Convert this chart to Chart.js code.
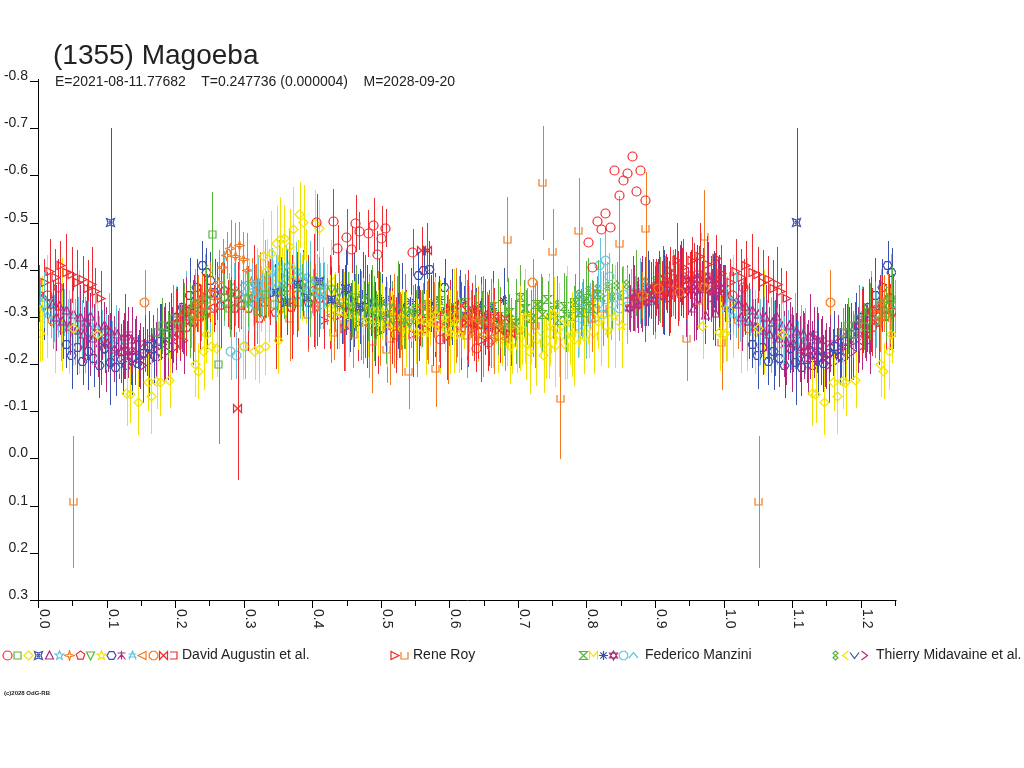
<!DOCTYPE html>
<html>
<head>
<meta charset="utf-8">
<script src="https://cdn.jsdelivr.net/npm/chart.js@4.4.1/dist/chart.umd.min.js"></script>
<style>
  html, body { margin: 0; padding: 0; background: #fff; }
  body { width: 1024px; height: 768px; position: relative; overflow: hidden;
         font-family: "Liberation Sans", Arial, sans-serif; color: #222; }
  #plot { position: absolute; left: 0; top: 0; }
  .txt { position: absolute; white-space: pre; }
  #title { left: 53px; top: 41px; font-size: 28px; line-height: 28px; }
  #sub { left: 55px; top: 74px; font-size: 14px; line-height: 14px; }
  .name { font-size: 14px; line-height: 14px; top: 647px; }
  .sym { position: absolute; }
  #copy { left: 4px; top: 690px; font-size: 6px; line-height: 6px; font-weight: bold; }
</style>
</head>
<body>
<canvas id="plot" width="1024" height="768"></canvas>
<div id="title" class="txt">(1355) Magoeba</div>
<div id="sub" class="txt">E=2021-08-11.77682    T=0.247736 (0.000004)    M=2028-09-20</div>
<div id="copy" class="txt">(c)2028 OdG-RB</div>
<script>
// [phase, reduced magnitude, error] per observing session
const daCircleRed = [[0.012,-0.345,0.05],[0.028,-0.362,0.06],[0.215,-0.312,0.05],[0.405,-0.500,0.06],[0.429,-0.502,0.07],
  [0.436,-0.444,0.05],[0.449,-0.469,0.06],[0.456,-0.443,0.05],[0.462,-0.498,0.06],[0.467,-0.482,0.04],[0.480,-0.476,0.05],
  [0.488,-0.493,0.06],[0.493,-0.433,0.05],[0.500,-0.466,0.07],[0.506,-0.488,0.04],[0.520,-0.262,0.08],[0.545,-0.436,0.05],
  [0.585,-0.252,0.06],[0.638,-0.233,0.05],[0.655,-0.245,0.06],[0.802,-0.457,0],[0.808,-0.405,0],[0.815,-0.502,0],
  [0.821,-0.486,0],[0.827,-0.520,0],[0.833,-0.489,0],[0.840,-0.610,0],[0.846,-0.557,0],[0.852,-0.590,0],[0.859,-0.604,0],
  [0.865,-0.640,0],[0.872,-0.565,0],[0.878,-0.610,0],[0.884,-0.546,0]];
const daSquareGreen = [[0.253,-0.475,0.09],[0.262,-0.200,0.17],[0.172,-0.268,0.05],[0.180,-0.281,0.06],[0.188,-0.262,0.05],
  [0.196,-0.297,0.07],[0.204,-0.279,0.05],[0.212,-0.312,0.06],[0.220,-0.293,0.08],[0.228,-0.326,0.05],[0.236,-0.308,0.06],
  [0.244,-0.337,0.07],[0.270,-0.341,0.05],[0.278,-0.318,0.06],[0.286,-0.350,0.07],[0.294,-0.329,0.05],[0.305,-0.338,0.06],
  [0.318,-0.312,0.07],[0.331,-0.347,0.05],[0.344,-0.326,0.08],[0.357,-0.355,0.06],[0.370,-0.331,0.07],[0.383,-0.362,0.05],
  [0.396,-0.338,0.08],[0.409,-0.366,0.06]];
const daDiamondYellow = [[0.002,-0.265,0.06],[0.050,-0.275,0.08],[0.085,-0.262,0.07],[0.128,-0.138,0.07],[0.133,-0.136,0.06],
  [0.145,-0.119,0.07],[0.159,-0.161,0.06],[0.164,-0.131,0.08],[0.172,-0.164,0.06],[0.177,-0.161,0.07],[0.191,-0.166,0.06],
  [0.228,-0.200,0.07],[0.232,-0.185,0.06],[0.240,-0.226,0.08],[0.244,-0.262,0.06],[0.252,-0.237,0.07],[0.259,-0.233,0.06],
  [0.298,-0.237,0.07],[0.315,-0.226,0.06],[0.321,-0.230,0.07],[0.330,-0.237,0.06],[0.349,-0.250,0.07],[0.327,-0.428,0.08],
  [0.332,-0.396,0.07],[0.339,-0.435,0.09],[0.347,-0.456,0.08],[0.352,-0.465,0.09],[0.358,-0.467,0.07],[0.366,-0.449,0.08],
  [0.371,-0.486,0.09],[0.380,-0.516,0.07],[0.386,-0.500,0.08],[0.403,-0.498,0.07],[0.409,-0.488,0.06],[0.687,-0.237,0.08],
  [0.716,-0.226,0.09],[0.736,-0.219,0.08],[0.968,-0.280,0.07],[0.993,-0.266,0.08],[0.998,-0.262,0.06]];
const daBoxBlue = [[0.105,-0.500,0.20],[0.344,-0.352,0.06],[0.361,-0.331,0.07],[0.377,-0.368,0.05],[0.392,-0.342,0.08],
  [0.409,-0.375,0.06],[0.426,-0.336,0.07],[0.447,-0.361,0.05],[0.468,-0.322,0.08]];
const daTriangleMagenta = [[0.020,-0.327,0.05],[0.025,-0.298,0.07],[0.030,-0.322,0.06],[0.035,-0.291,0.08],[0.040,-0.313,0.05],
  [0.045,-0.279,0.06],[0.050,-0.306,0.09],[0.055,-0.271,0.05],[0.060,-0.298,0.07],[0.065,-0.262,0.06],[0.070,-0.289,0.08],
  [0.075,-0.301,0.05],[0.080,-0.254,0.06],[0.085,-0.279,0.07],[0.090,-0.246,0.09],[0.095,-0.281,0.05],[0.100,-0.243,0.06],
  [0.105,-0.270,0.08],[0.110,-0.231,0.07],[0.115,-0.262,0.05],[0.120,-0.226,0.06],[0.125,-0.259,0.09],[0.130,-0.221,0.05],
  [0.135,-0.252,0.07],[0.955,-0.318,0.07],[0.972,-0.302,0.06],[0.986,-0.308,0.07]];
const daStarCyan = [[0.300,-0.352,0.05],[0.305,-0.330,0.06],[0.310,-0.365,0.05],[0.315,-0.341,0.07],[0.320,-0.372,0.06],
  [0.325,-0.350,0.05],[0.330,-0.384,0.08],[0.335,-0.356,0.06],[0.340,-0.395,0.05],[0.345,-0.362,0.07],[0.350,-0.404,0.06],
  [0.355,-0.371,0.05],[0.360,-0.392,0.06],[0.365,-0.408,0.08],[0.370,-0.378,0.05],[0.375,-0.399,0.06],[0.380,-0.365,0.07],
  [0.385,-0.388,0.05],[0.390,-0.358,0.06],[0.395,-0.380,0.08],[0.400,-0.352,0.05],[0.405,-0.374,0.06],[0.410,-0.345,0.07],
  [0.415,-0.366,0.05]];
const daSparkOrange = [[0.220,-0.312,0.05],[0.226,-0.295,0.07],[0.232,-0.328,0.06],[0.238,-0.340,0.05],[0.244,-0.318,0.08],
  [0.250,-0.356,0.06],[0.256,-0.338,0.05],[0.262,-0.372,0.07],[0.268,-0.405,0.06],[0.274,-0.430,0.05],[0.280,-0.445,0.06],
  [0.286,-0.428,0.07],[0.292,-0.452,0.05],[0.298,-0.421,0.06],[0.304,-0.398,0.08],[0.310,-0.375,0.05],[0.316,-0.352,0.06],
  [0.322,-0.368,0.07],[0.328,-0.341,0.05],[0.334,-0.359,0.06]];
const daPentagonRed = [[0.200,-0.286,0.07],[0.205,-0.262,0.05],[0.210,-0.301,0.08],[0.215,-0.278,0.06],[0.220,-0.316,0.05],
  [0.225,-0.289,0.09],[0.230,-0.327,0.06],[0.235,-0.300,0.07],[0.240,-0.341,0.05],[0.245,-0.312,0.08],[0.250,-0.349,0.06],
  [0.255,-0.318,0.05],[0.260,-0.346,0.07],[0.265,-0.324,0.09],[0.270,-0.355,0.06],[0.275,-0.329,0.05],[0.280,-0.352,0.08],
  [0.285,-0.318,0.06],[0.290,-0.347,0.07],[0.295,-0.325,0.05],[0.305,-0.318,0.09],[0.313,-0.342,0.11],[0.321,-0.296,0.08],
  [0.329,-0.331,0.10],[0.337,-0.352,0.07],[0.345,-0.309,0.12],[0.353,-0.338,0.09],[0.361,-0.362,0.08],[0.369,-0.321,0.11],
  [0.377,-0.347,0.09],[0.385,-0.372,0.07],[0.393,-0.331,0.10],[0.401,-0.356,0.12],[0.409,-0.338,0.08]];
const daTriDownGreen = [[0.420,-0.332,0.05],[0.426,-0.358,0.07],[0.432,-0.329,0.06],[0.438,-0.351,0.04],[0.444,-0.322,0.08],
  [0.450,-0.346,0.05],[0.456,-0.318,0.06],[0.462,-0.341,0.07],[0.468,-0.313,0.05],[0.474,-0.337,0.04],[0.480,-0.309,0.06],
  [0.486,-0.331,0.08],[0.492,-0.304,0.05],[0.498,-0.326,0.07],[0.504,-0.298,0.06],[0.510,-0.321,0.04],[0.516,-0.294,0.05],
  [0.522,-0.317,0.07],[0.528,-0.289,0.06],[0.534,-0.312,0.08],[0.540,-0.287,0.05],[0.546,-0.308,0.06]];
const daStarYellow = [[0.424,-0.318,0.07],[0.431,-0.341,0.05],[0.438,-0.312,0.08],[0.445,-0.335,0.06],[0.452,-0.305,0.09],
  [0.459,-0.327,0.05],[0.466,-0.299,0.07],[0.473,-0.322,0.06],[0.480,-0.294,0.08],[0.487,-0.316,0.05],[0.494,-0.288,0.07],
  [0.501,-0.311,0.06],[0.508,-0.283,0.09],[0.515,-0.305,0.05],[0.522,-0.278,0.07],[0.529,-0.300,0.06],[0.536,-0.273,0.08],
  [0.543,-0.296,0.05],[0.550,-0.270,0.07],[0.557,-0.292,0.06],[0.564,-0.267,0.09],[0.571,-0.289,0.05],[0.578,-0.305,0.08],
  [0.585,-0.278,0.10],[0.592,-0.296,0.07],[0.599,-0.268,0.09],[0.606,-0.291,0.11],[0.613,-0.262,0.08],[0.702,-0.276,0.09],
  [0.709,-0.301,0.10],[0.744,-0.279,0.11],[0.751,-0.305,0.08],[0.758,-0.272,0.10],[0.770,-0.288,0.12],[0.777,-0.262,0.09],
  [0.820,-0.296,0.10],[0.830,-0.272,0.08],[0.840,-0.301,0.11],[0.850,-0.282,0.09]];
const daHexagonBlue = [[0.040,-0.242,0.05],[0.048,-0.218,0.07],[0.056,-0.236,0.06],[0.064,-0.205,0.05],[0.072,-0.226,0.08],
  [0.080,-0.211,0.06],[0.088,-0.198,0.07],[0.096,-0.232,0.05],[0.104,-0.203,0.09],[0.112,-0.193,0.06],[0.120,-0.209,0.05],
  [0.128,-0.197,0.07],[0.136,-0.214,0.08],[0.144,-0.201,0.06],[0.152,-0.222,0.05],[0.160,-0.238,0.07],[0.168,-0.216,0.06],
  [0.176,-0.247,0.08],[0.184,-0.262,0.05],[0.192,-0.281,0.07],[0.200,-0.299,0.06],[0.210,-0.321,0.05],[0.220,-0.345,0.08],
  [0.230,-0.362,0.06],[0.238,-0.410,0.05],[0.244,-0.395,0.05],[0.250,-0.378,0.06],[0.256,-0.352,0.07],[0.553,-0.388,0.05],
  [0.561,-0.398,0.05],[0.569,-0.401,0.06],[0.592,-0.362,0.06]];
const daTowerMagenta = [[0.124,-0.238,0.07],[0.130,-0.262,0.06],[0.136,-0.229,0.08],[0.142,-0.251,0.05],[0.148,-0.218,0.07],
  [0.154,-0.244,0.06],[0.160,-0.222,0.09],[0.166,-0.255,0.05],[0.172,-0.238,0.07],[0.178,-0.268,0.06],[0.184,-0.249,0.08],
  [0.190,-0.281,0.05],[0.196,-0.262,0.06],[0.202,-0.294,0.07],[0.208,-0.276,0.05],[0.214,-0.305,0.08],[0.220,-0.288,0.06],
  [0.226,-0.318,0.07]];
const daAsteriskCyan = [[0.002,-0.318,0.05],[0.007,-0.336,0.06],[0.012,-0.302,0.04],[0.017,-0.325,0.07],[0.022,-0.297,0.05],
  [0.027,-0.318,0.06],[0.032,-0.287,0.08],[0.037,-0.309,0.05],[0.042,-0.279,0.06],[0.047,-0.301,0.04],[0.052,-0.268,0.07],
  [0.057,-0.292,0.05],[0.062,-0.276,0.06],[0.067,-0.262,0.08],[0.072,-0.284,0.05],[0.077,-0.258,0.06],[0.082,-0.281,0.07],
  [0.087,-0.252,0.05],[0.092,-0.274,0.04],[0.097,-0.247,0.06],[0.102,-0.270,0.08],[0.107,-0.241,0.05],[0.112,-0.266,0.06],
  [0.117,-0.249,0.07]];
const daTriLeftOrange = [[0.402,-0.322,0.09],[0.414,-0.345,0.07],[0.426,-0.302,0.10],[0.438,-0.331,0.08],[0.470,-0.308,0.09],
  [0.482,-0.281,0.11],[0.494,-0.318,0.08],[0.518,-0.292,0.10],[0.530,-0.265,0.09],[0.552,-0.296,0.07],[0.560,-0.322,0.05],
  [0.568,-0.290,0.09],[0.576,-0.315,0.06],[0.584,-0.284,0.08],[0.592,-0.309,0.05],[0.600,-0.278,0.07],[0.608,-0.303,0.10],
  [0.616,-0.272,0.06],[0.624,-0.298,0.08],[0.632,-0.268,0.05],[0.640,-0.293,0.07],[0.648,-0.263,0.09],[0.656,-0.288,0.06],
  [0.664,-0.259,0.08],[0.672,-0.284,0.05],[0.680,-0.255,0.07],[0.688,-0.280,0.06]];
const daOctagonOrange = [[0.020,-0.292,0.06],[0.035,-0.276,0.05],[0.154,-0.330,0.07],[0.241,-0.302,0.06],[0.660,-0.252,0.06],
  [0.720,-0.372,0.05],[0.880,-0.345,0.05],[0.904,-0.361,0.05],[0.934,-0.352,0.06],[0.970,-0.362,0.06]];
const daBowtieRed = [[0.290,-0.105,0.15],[0.558,-0.441,0.05],[0.566,-0.440,0.06],[0.600,-0.318,0.06],[0.608,-0.296,0.07],
  [0.616,-0.325,0.05],[0.624,-0.289,0.08],[0.632,-0.312,0.06],[0.640,-0.281,0.07],[0.648,-0.305,0.05],[0.656,-0.276,0.08],
  [0.664,-0.301,0.06],[0.672,-0.272,0.07],[0.680,-0.296,0.05],[0.688,-0.265,0.07]];
const daBracketRed = [[0.860,-0.332,0.06],[0.866,-0.350,0.08],[0.872,-0.327,0.05],[0.878,-0.346,0.07],[0.884,-0.337,0.09],
  [0.890,-0.361,0.06],[0.896,-0.342,0.08],[0.902,-0.367,0.05],[0.908,-0.349,0.07],[0.914,-0.374,0.06],[0.920,-0.355,0.09],
  [0.926,-0.381,0.05],[0.932,-0.360,0.08],[0.938,-0.385,0.06],[0.944,-0.364,0.07],[0.950,-0.388,0.05],[0.956,-0.366,0.09],
  [0.962,-0.390,0.06],[0.968,-0.367,0.08],[0.974,-0.385,0.05],[0.980,-0.359,0.07],[0.986,-0.376,0.06]];
const rrTriRightRed = [[0.000,-0.350,0.06],[0.008,-0.372,0.05],[0.016,-0.396,0.07],[0.024,-0.384,0.06],[0.031,-0.410,0.05],
  [0.040,-0.395,0.08],[0.048,-0.389,0.06],[0.056,-0.372,0.07],[0.064,-0.380,0.05],[0.071,-0.361,0.06],[0.077,-0.368,0.08],
  [0.082,-0.353,0.05],[0.090,-0.338,0.06],[0.241,-0.300,0.07],[0.405,-0.318,0.08],[0.415,-0.292,0.06],[0.425,-0.331,0.10],
  [0.435,-0.301,0.07],[0.445,-0.276,0.09],[0.455,-0.312,0.06],[0.465,-0.286,0.08],[0.475,-0.322,0.11],[0.485,-0.295,0.07],
  [0.495,-0.268,0.09],[0.505,-0.304,0.06],[0.515,-0.281,0.08],[0.525,-0.312,0.10],[0.535,-0.287,0.07],[0.545,-0.262,0.09],
  [0.555,-0.298,0.06],[0.565,-0.273,0.08],[0.575,-0.305,0.11],[0.585,-0.282,0.07],[0.595,-0.256,0.09],[0.605,-0.291,0.06],
  [0.615,-0.268,0.08],[0.625,-0.300,0.10],[0.635,-0.276,0.07],[0.645,-0.251,0.09],[0.655,-0.286,0.06],[0.900,-0.362,0.06],
  [0.910,-0.381,0.07],[0.920,-0.398,0.05],[0.930,-0.420,0.08],[0.940,-0.405,0.06],[0.952,-0.420,0.05],[0.964,-0.428,0.07],
  [0.975,-0.412,0.06],[0.988,-0.424,0.05],[0.995,-0.392,0.06]];
const rrCupOrange = [[0.050,0.092,0.14],[0.352,-0.318,0.07],[0.366,-0.296,0.09],[0.378,-0.330,0.06],[0.392,-0.305,0.08],
  [0.430,-0.268,0.06],[0.446,-0.285,0.10],[0.458,-0.262,0.07],[0.472,-0.291,0.09],[0.486,-0.248,0.11],[0.498,-0.276,0.08],
  [0.507,-0.230,0.07],[0.512,-0.255,0.10],[0.526,-0.283,0.07],[0.539,-0.184,0.08],[0.552,-0.262,0.09],[0.566,-0.289,0.08],
  [0.579,-0.190,0.08],[0.596,-0.258,0.10],[0.610,-0.285,0.07],[0.624,-0.260,0.09],[0.645,-0.300,0.07],[0.683,-0.465,0.09],
  [0.700,-0.272,0.08],[0.712,-0.301,0.06],[0.724,-0.282,0.09],[0.735,-0.584,0.12],[0.749,-0.438,0.09],[0.760,-0.128,0.13],
  [0.787,-0.484,0.11],[0.806,-0.296,0.07],[0.822,-0.318,0.08],[0.846,-0.456,0.10],[0.885,-0.488,0.12],[0.905,-0.352,0.06],
  [0.925,-0.371,0.07],[0.945,-0.255,0.09],[0.962,-0.335,0.06],[0.970,-0.470,0.10],[0.996,-0.246,0.10]];
const fmHourglassGreen = [[0.550,-0.318,0.04],[0.558,-0.296,0.06],[0.566,-0.327,0.05],[0.574,-0.305,0.07],[0.582,-0.334,0.04],
  [0.590,-0.312,0.06],[0.598,-0.289,0.05],[0.606,-0.321,0.08],[0.614,-0.298,0.04],[0.622,-0.330,0.06],[0.630,-0.306,0.05],
  [0.638,-0.283,0.07],[0.646,-0.315,0.04],[0.654,-0.292,0.06],[0.662,-0.322,0.05],[0.670,-0.300,0.08],[0.678,-0.278,0.06],
  [0.686,-0.309,0.04],[0.694,-0.286,0.05],[0.702,-0.341,0.07],[0.710,-0.318,0.04],[0.718,-0.296,0.06],[0.726,-0.327,0.05],
  [0.734,-0.305,0.08],[0.742,-0.336,0.04],[0.750,-0.314,0.06],[0.758,-0.292,0.05],[0.766,-0.323,0.07],[0.774,-0.301,0.04],
  [0.782,-0.331,0.06],[0.790,-0.309,0.05],[0.798,-0.339,0.08],[0.806,-0.318,0.06],[0.814,-0.347,0.04]];
const fmBowtieYellow = [[0.620,-0.281,0.05],[0.627,-0.296,0.07],[0.634,-0.268,0.06],[0.641,-0.285,0.08],[0.648,-0.259,0.05],
  [0.655,-0.278,0.07],[0.662,-0.252,0.06],[0.669,-0.271,0.09],[0.676,-0.245,0.05],[0.683,-0.266,0.07],[0.690,-0.240,0.06],
  [0.697,-0.262,0.08],[0.704,-0.249,0.05],[0.711,-0.236,0.07],[0.718,-0.258,0.06],[0.725,-0.243,0.09],[0.732,-0.262,0.05],
  [0.739,-0.238,0.07],[0.746,-0.255,0.06],[0.753,-0.231,0.08],[0.760,-0.250,0.05],[0.767,-0.236,0.07],[0.774,-0.259,0.06],
  [0.781,-0.244,0.09],[0.788,-0.265,0.05],[0.795,-0.249,0.07],[0.802,-0.272,0.06],[0.809,-0.258,0.08],[0.816,-0.281,0.05]];
const fmAsteriskBlue = [[0.442,-0.322,0.08],[0.448,-0.351,0.09],[0.454,-0.296,0.07],[0.460,-0.336,0.10],[0.466,-0.312,0.08],
  [0.472,-0.348,0.09],[0.478,-0.301,0.11],[0.484,-0.329,0.07],[0.490,-0.285,0.09],[0.496,-0.342,0.08],[0.500,-0.330,0.06],
  [0.506,-0.305,0.08],[0.512,-0.339,0.05],[0.518,-0.314,0.07],[0.524,-0.291,0.06],[0.530,-0.324,0.09],[0.536,-0.300,0.05],
  [0.542,-0.333,0.07],[0.548,-0.309,0.06],[0.554,-0.286,0.08],[0.560,-0.319,0.05],[0.566,-0.295,0.07],[0.572,-0.328,0.06],
  [0.578,-0.304,0.09],[0.584,-0.337,0.05],[0.590,-0.312,0.07],[0.596,-0.288,0.06],[0.602,-0.321,0.08],[0.608,-0.297,0.05],
  [0.614,-0.330,0.07],[0.620,-0.306,0.06],[0.626,-0.283,0.09],[0.632,-0.316,0.05],[0.638,-0.292,0.07],[0.644,-0.325,0.06],
  [0.650,-0.300,0.08],[0.656,-0.276,0.05],[0.662,-0.318,0.08],[0.670,-0.291,0.09],[0.678,-0.334,0.07]];
const fmDavidMagenta = [[0.862,-0.318,0.05],[0.868,-0.341,0.07],[0.874,-0.325,0.06],[0.880,-0.349,0.08],[0.886,-0.331,0.05],
  [0.892,-0.356,0.06],[0.898,-0.337,0.07],[0.904,-0.361,0.05],[0.910,-0.343,0.08],[0.916,-0.368,0.06],[0.922,-0.350,0.05],
  [0.928,-0.373,0.07],[0.934,-0.353,0.06],[0.940,-0.377,0.08],[0.946,-0.355,0.05],[0.952,-0.379,0.06],[0.958,-0.357,0.07],
  [0.964,-0.380,0.05],[0.970,-0.356,0.06],[0.976,-0.378,0.08],[0.982,-0.351,0.05],[0.988,-0.370,0.06],[0.994,-0.342,0.07],
  [0.999,-0.360,0.05]];
const fmOctagonCyan = [[0.280,-0.226,0.06],[0.288,-0.218,0.05],[0.300,-0.238,0.07],[0.780,-0.305,0.05],[0.786,-0.282,0.07],
  [0.792,-0.314,0.06],[0.798,-0.291,0.08],[0.804,-0.322,0.05],[0.810,-0.299,0.06],[0.816,-0.329,0.07],[0.818,-0.408,0.06],
  [0.822,-0.306,0.05],[0.826,-0.420,0.07],[0.828,-0.336,0.08],[0.832,-0.385,0.05],[0.834,-0.312,0.06],[0.840,-0.342,0.05],
  [0.846,-0.318,0.07],[0.852,-0.347,0.06],[0.858,-0.323,0.08],[0.864,-0.351,0.05],[0.870,-0.327,0.06],[0.876,-0.355,0.07],
  [0.882,-0.331,0.05],[0.890,-0.358,0.06],[0.898,-0.334,0.08]];
const fmCaretCyan = [[0.200,-0.305,0.06],[0.207,-0.282,0.05],[0.214,-0.318,0.08],[0.221,-0.295,0.06],[0.228,-0.331,0.07],
  [0.235,-0.307,0.05],[0.242,-0.343,0.09],[0.249,-0.318,0.06],[0.256,-0.352,0.05],[0.263,-0.327,0.07],[0.270,-0.360,0.08],
  [0.277,-0.334,0.06],[0.284,-0.365,0.05],[0.291,-0.339,0.07],[0.298,-0.368,0.06]];
const tmEightGreen = [[0.452,-0.309,0.07],[0.461,-0.331,0.06],[0.470,-0.288,0.08],[0.479,-0.318,0.07],[0.488,-0.297,0.09],
  [0.497,-0.323,0.06],[0.506,-0.281,0.08],[0.515,-0.306,0.07],[0.524,-0.329,0.09],[0.533,-0.293,0.06],[0.542,-0.315,0.08],
  [0.600,-0.305,0.07],[0.612,-0.327,0.06],[0.624,-0.289,0.08],[0.636,-0.318,0.07],[0.648,-0.296,0.09],[0.660,-0.321,0.06],
  [0.672,-0.284,0.08],[0.684,-0.312,0.07],[0.696,-0.291,0.09],[0.708,-0.318,0.06],[0.720,-0.296,0.08],[0.732,-0.322,0.07],
  [0.744,-0.301,0.09],[0.756,-0.327,0.06],[0.768,-0.306,0.08],[0.780,-0.326,0.04],[0.787,-0.348,0.06],[0.794,-0.331,0.05],
  [0.801,-0.355,0.07],[0.808,-0.336,0.04],[0.815,-0.360,0.06],[0.822,-0.340,0.05],[0.829,-0.364,0.04],[0.836,-0.343,0.07],
  [0.843,-0.366,0.05],[0.850,-0.345,0.06],[0.857,-0.369,0.04],[0.864,-0.348,0.05],[0.871,-0.372,0.07],[0.878,-0.351,0.04],
  [0.885,-0.374,0.06],[0.892,-0.354,0.05],[0.899,-0.377,0.04],[0.906,-0.357,0.07],[0.913,-0.380,0.05]];
const tmLessYellow = [[0.004,-0.296,0.09],[0.012,-0.322,0.11],[0.024,-0.281,0.10],[0.033,-0.305,0.12],[0.044,-0.268,0.09],
  [0.058,-0.290,0.11],[0.300,-0.322,0.06],[0.306,-0.345,0.08],[0.312,-0.331,0.05],[0.318,-0.356,0.09],[0.324,-0.338,0.07],
  [0.330,-0.362,0.06],[0.336,-0.344,0.10],[0.342,-0.370,0.05],[0.348,-0.351,0.08],[0.354,-0.376,0.07],[0.360,-0.357,0.06],
  [0.366,-0.381,0.09],[0.372,-0.360,0.05],[0.378,-0.384,0.08],[0.384,-0.362,0.07],[0.390,-0.386,0.10],[0.396,-0.361,0.06],
  [0.402,-0.383,0.05],[0.408,-0.357,0.08],[0.414,-0.379,0.07],[0.420,-0.352,0.06],[0.426,-0.374,0.09],[0.432,-0.346,0.05],
  [0.438,-0.366,0.07]];
const tmVeeBlue = [[0.000,-0.345,0.05],[0.008,-0.321,0.07],[0.016,-0.340,0.06],[0.880,-0.338,0.06],[0.888,-0.360,0.08],
  [0.896,-0.344,0.05],[0.904,-0.369,0.07],[0.912,-0.351,0.09],[0.920,-0.376,0.06],[0.928,-0.357,0.05],[0.936,-0.381,0.08],
  [0.944,-0.360,0.07],[0.952,-0.384,0.06],[0.960,-0.362,0.09],[0.968,-0.386,0.05],[0.976,-0.361,0.07],[0.984,-0.379,0.06],
  [0.992,-0.352,0.08]];
const tmGreaterMagenta = [[0.062,-0.270,0.06],[0.068,-0.284,0.05],[0.074,-0.255,0.08],[0.080,-0.268,0.06],[0.086,-0.243,0.07],
  [0.092,-0.259,0.05],[0.098,-0.231,0.09],[0.104,-0.249,0.06],[0.110,-0.222,0.05],[0.116,-0.238,0.07],[0.122,-0.214,0.08],
  [0.128,-0.231,0.06],[0.134,-0.205,0.05],[0.140,-0.226,0.07],[0.146,-0.212,0.06],[0.152,-0.198,0.08],[0.158,-0.224,0.05],
  [0.164,-0.207,0.07],[0.170,-0.230,0.06],[0.176,-0.215,0.05],[0.182,-0.241,0.08],[0.188,-0.226,0.06],[0.194,-0.252,0.07],
  [0.200,-0.238,0.05],[0.206,-0.266,0.06],[0.212,-0.249,0.07],[0.903,-0.352,0.07],[0.911,-0.378,0.06],[0.919,-0.339,0.08],
  [0.927,-0.365,0.07],[0.935,-0.392,0.06],[0.943,-0.348,0.09],[0.951,-0.371,0.07],[0.959,-0.331,0.08],[0.967,-0.358,0.06],
  [0.975,-0.384,0.07],[0.983,-0.342,0.09],[0.991,-0.366,0.06],[0.997,-0.329,0.08]];

const observers = ["David Augustin et al.", "Rene Roy", "Federico Manzini", "Thierry Midavaine et al."];
const xMajorTicks = [0.0, 0.1, 0.2, 0.3, 0.4, 0.5, 0.6, 0.7, 0.8, 0.9, 1.0, 1.1, 1.2];
const xMinorTicks = [0.05, 0.15, 0.25, 0.35, 0.45, 0.55, 0.65, 0.75, 0.85, 0.95, 1.05, 1.15, 1.25];
const yTicks = [-0.8, -0.7, -0.6, -0.5, -0.4, -0.3, -0.2, -0.1, 0.0, 0.1, 0.2, 0.3];

const RED = '#ee2a2e', GREEN = '#5ab43c', YELLOW = '#f2e400', BLUE = '#3a50ae',
      MAGENTA = '#b2297f', CYAN = '#62c6dc', ORANGE = '#f37a22';

const series = [
  { obs: 0, pts: daCircleRed, color: RED, shape: 'circle' },
  { obs: 0, pts: daSquareGreen, color: GREEN, shape: 'square' },
  { obs: 0, pts: daDiamondYellow, color: YELLOW, shape: 'diamond' },
  { obs: 0, pts: daBoxBlue, color: BLUE, shape: 'boxx' },
  { obs: 0, pts: daTriangleMagenta, color: MAGENTA, shape: 'triangle' },
  { obs: 0, pts: daStarCyan, color: CYAN, shape: 'star5' },
  { obs: 0, pts: daSparkOrange, color: ORANGE, shape: 'star4' },
  { obs: 0, pts: daPentagonRed, color: RED, shape: 'pentagon' },
  { obs: 0, pts: daTriDownGreen, color: GREEN, shape: 'tridown' },
  { obs: 0, pts: daStarYellow, color: YELLOW, shape: 'star5' },
  { obs: 0, pts: daHexagonBlue, color: BLUE, shape: 'hexagon' },
  { obs: 0, pts: daTowerMagenta, color: MAGENTA, shape: 'tower' },
  { obs: 0, pts: daAsteriskCyan, color: CYAN, shape: 'tower2' },
  { obs: 0, pts: daTriLeftOrange, color: ORANGE, shape: 'trileft' },
  { obs: 0, pts: daOctagonOrange, color: ORANGE, shape: 'octagon' },
  { obs: 0, pts: daBowtieRed, color: RED, shape: 'bowtie' },
  { obs: 0, pts: daBracketRed, color: RED, shape: 'bracket' },
  { obs: 1, pts: rrTriRightRed, color: RED, shape: 'triright' },
  { obs: 1, pts: rrCupOrange, color: ORANGE, shape: 'cup' },
  { obs: 2, pts: fmHourglassGreen, color: GREEN, shape: 'hourglass' },
  { obs: 2, pts: fmBowtieYellow, color: YELLOW, shape: 'mshape' },
  { obs: 2, pts: fmAsteriskBlue, color: BLUE, shape: 'asterisk' },
  { obs: 2, pts: fmDavidMagenta, color: MAGENTA, shape: 'david' },
  { obs: 2, pts: fmOctagonCyan, color: CYAN, shape: 'octagon' },
  { obs: 2, pts: fmCaretCyan, color: CYAN, shape: 'caret' },
  { obs: 3, pts: tmEightGreen, color: GREEN, shape: 'eight' },
  { obs: 3, pts: tmLessYellow, color: YELLOW, shape: 'less' },
  { obs: 3, pts: tmVeeBlue, color: BLUE, shape: 'vee' },
  { obs: 3, pts: tmGreaterMagenta, color: MAGENTA, shape: 'greater' },
];

// legend layout: where each observer's symbol row and name start
const legendLayout = [
  { x: 2, step: 10.4, textX: 182 },
  { x: 389, step: 10, textX: 413 },
  { x: 578, step: 10, textX: 645 },
  { x: 830, step: 9.5, textX: 876 },
];

function ring(n, r, rot) {
  const a = [];
  for (let i = 0; i < n; i++) { const t = rot + i * 2 * Math.PI / n; a.push([r * Math.cos(t), r * Math.sin(t)]); }
  return a;
}
function starPts(n, r1, r2) {
  const a = [];
  for (let i = 0; i < 2 * n; i++) { const t = -Math.PI / 2 + i * Math.PI / n; const r = i % 2 ? r2 : r1; a.push([r * Math.cos(t), r * Math.sin(t)]); }
  return a;
}

function marker(shape, color) {
  const c = document.createElement('canvas');
  c.width = 11; c.height = 11;
  const g = c.getContext('2d');
  g.translate(5.5, 5.5);
  g.strokeStyle = color;
  g.lineWidth = 1.2;
  g.beginPath();
  const poly = (pts, close = true) => {
    pts.forEach((p, i) => i ? g.lineTo(p[0], p[1]) : g.moveTo(p[0], p[1]));
    if (close) g.closePath();
  };
  switch (shape) {
    case 'circle': g.arc(0, 0, 4.5, 0, 2 * Math.PI); break;
    case 'square': g.rect(-3.5, -3.5, 7, 7); break;
    case 'diamond': poly([[0, -4.5], [4.5, 0], [0, 4.5], [-4.5, 0]]); break;
    case 'boxx':
      poly([[-4, -4], [0, -2.5], [4, -4], [2.5, 0], [4, 4], [0, 2.5], [-4, 4], [-2.5, 0]]);
      poly([[-1.5, -1.5], [1.5, 1.5]], false); poly([[1.5, -1.5], [-1.5, 1.5]], false); break;
    case 'triangle': poly([[0, -4.5], [4, 3.5], [-4, 3.5]]); break;
    case 'star5': poly(starPts(5, 4.8, 2)); break;
    case 'star4': poly(starPts(4, 4.8, 1.5)); break;
    case 'pentagon': poly(ring(5, 4.5, -Math.PI / 2)); break;
    case 'tridown': poly([[0, 4.5], [4, -3.5], [-4, -3.5]]); break;
    case 'hexagon': poly(ring(6, 4.5, 0)); break;
    case 'tower':
      poly([[-4, 4], [0, -1], [4, 4]], false); poly([[0, -4.5], [0, 4]], false); poly([[-4, -2.5], [4, -2.5]], false); break;
    case 'tower2':
      poly([[-3.5, 4], [0, -4.5], [3.5, 4]], false); poly([[-4, -1.5], [4, -1.5]], false); poly([[-4, 1.5], [4, 1.5]], false); break;
    case 'trileft': poly([[-4.5, 0], [3.5, -4], [3.5, 4]]); break;
    case 'octagon': poly(ring(8, 4.6, Math.PI / 8)); break;
    case 'bowtie': poly([[-4, -4], [-4, 4], [4, -4], [4, 4]]); break;
    case 'bracket': poly([[-3.5, -3.5], [3.5, -3.5], [3.5, 3.5], [-3.5, 3.5]], false); break;
    case 'triright': poly([[4.5, 0], [-3.5, -4], [-3.5, 4]]); break;
    case 'cup': poly([[-3.5, -3.5], [-3.5, 3.5], [3.5, 3.5], [3.5, -3.5]], false); break;
    case 'hourglass': poly([[-4, -4], [4, -4], [-4, 4], [4, 4]]); break;
    case 'mshape': poly([[-4, 4], [-4, -4], [0, 1], [4, -4], [4, 4]], false); break;
    case 'asterisk':
      poly([[-4.5, 0], [4.5, 0]], false); poly([[0, -4.5], [0, 4.5]], false);
      poly([[-3.2, -3.2], [3.2, 3.2]], false); poly([[3.2, -3.2], [-3.2, 3.2]], false); break;
    case 'david':
      poly([[0, -4.5], [4, 2.3], [-4, 2.3]]); poly([[0, 4.5], [4, -2.3], [-4, -2.3]]); break;
    case 'caret': poly([[-4.5, 2.5], [0, -3], [4.5, 2.5]], false); break;
    case 'eight':
      poly([[0, -4.5], [2.5, -2.2], [0, 0], [-2.5, -2.2]]); poly([[0, 0], [2.5, 2.2], [0, 4.5], [-2.5, 2.2]]); break;
    case 'less': poly([[3, -4.5], [-3, 0], [3, 4.5]], false); break;
    case 'vee': poly([[-4.5, -3], [0, 3], [4.5, -3]], false); break;
    case 'greater': poly([[-3, -4.5], [3, 0], [-3, 4.5]], false); break;
  }
  g.stroke();
  return c;
}

// the plot repeats the first quarter of the phase after 1.0
const datasets = series.map(s => {
  const data = [];
  s.pts.forEach(([p, m, e]) => {
    data.push({ x: p, y: m, e: e });
    if (p < 0.25) data.push({ x: p + 1, y: m, e: e });
  });
  return { data: data, pointStyle: marker(s.shape, s.color), borderColor: s.color,
           backgroundColor: 'rgba(0,0,0,0)', pointRadius: 5, showLine: false };
});

const errorBars = {
  id: 'errorBars',
  beforeDatasetsDraw(chart) {
    chart.ctx.imageSmoothingEnabled = false;
  },
  beforeDatasetDraw(chart, args) {
    const ds = chart.data.datasets[args.index];
    const ys = chart.scales.y, ctx = chart.ctx;
    ctx.save();
    ctx.strokeStyle = ds.borderColor;
    ctx.lineWidth = 1;
    ctx.beginPath();
    args.meta.data.forEach((el, j) => {
      const d = ds.data[j];
      if (!d.e) return;
      const x = Math.round(el.x) + 0.5;
      ctx.moveTo(x, Math.round(ys.getPixelForValue(d.y - d.e)));
      ctx.lineTo(x, Math.round(ys.getPixelForValue(d.y + d.e)));
    });
    ctx.stroke();
    ctx.restore();
  }
};

const axes = {
  id: 'axes',
  afterDraw(chart) {
    const { ctx, chartArea: a, scales: { x, y } } = chart;
    ctx.save();
    ctx.strokeStyle = '#000';
    ctx.lineWidth = 1;
    ctx.beginPath();
    ctx.moveTo(a.left - 0.5, a.top - 2);
    ctx.lineTo(a.left - 0.5, a.bottom + 0.5);
    ctx.lineTo(a.right + 0.5, a.bottom + 0.5);
    yTicks.forEach(v => {
      const py = Math.round(y.getPixelForValue(v)) + 0.5;
      ctx.moveTo(a.left - 9, py); ctx.lineTo(a.left - 0.5, py);
    });
    xMajorTicks.forEach(v => {
      const px = Math.round(x.getPixelForValue(v)) - 0.5;
      ctx.moveTo(px, a.bottom); ctx.lineTo(px, a.bottom + 8);
    });
    xMinorTicks.forEach(v => {
      const px = Math.round(x.getPixelForValue(v)) - 0.5;
      ctx.moveTo(px, a.bottom); ctx.lineTo(px, a.bottom + 6);
    });
    ctx.stroke();
    ctx.fillStyle = '#222';
    ctx.font = '14px "Liberation Sans", Arial, sans-serif';
    ctx.textBaseline = 'alphabetic';
    ctx.textAlign = 'right';
    yTicks.forEach(v => ctx.fillText(v.toFixed(1), a.left - 11, Math.round(y.getPixelForValue(v)) - 1));
    ctx.textAlign = 'left';
    xMajorTicks.forEach(v => {
      ctx.save();
      ctx.translate(Math.round(x.getPixelForValue(v)) + 1, a.bottom + 9);
      ctx.rotate(Math.PI / 2);
      ctx.fillText(v.toFixed(1), 0, 0);
      ctx.restore();
    });
    ctx.restore();
  }
};

new Chart(document.getElementById('plot'), {
  type: 'scatter',
  data: { datasets: datasets },
  options: {
    responsive: false,
    animation: false,
    devicePixelRatio: 1,
    events: [],
    layout: { padding: { left: 39, top: 81, right: 128, bottom: 168 } },
    plugins: { legend: { display: false }, tooltip: { enabled: false } },
    scales: {
      x: { type: 'linear', min: 0, max: 1.25, display: false },
      y: { type: 'linear', min: -0.8, max: 0.3, reverse: true, display: false },
    },
  },
  plugins: [errorBars, axes],
});

// legend: symbol row per observer followed by the name
const counts = observers.map(() => 0);
series.forEach(s => {
  const L = legendLayout[s.obs];
  const c = marker(s.shape, s.color);
  c.className = 'sym';
  c.style.left = (L.x + counts[s.obs] * L.step) + 'px';
  c.style.top = '650px';
  document.body.appendChild(c);
  counts[s.obs]++;
});
observers.forEach((name, i) => {
  const d = document.createElement('div');
  d.className = 'txt name';
  d.style.left = legendLayout[i].textX + 'px';
  d.textContent = name;
  document.body.appendChild(d);
});
</script>
</body>
</html>
